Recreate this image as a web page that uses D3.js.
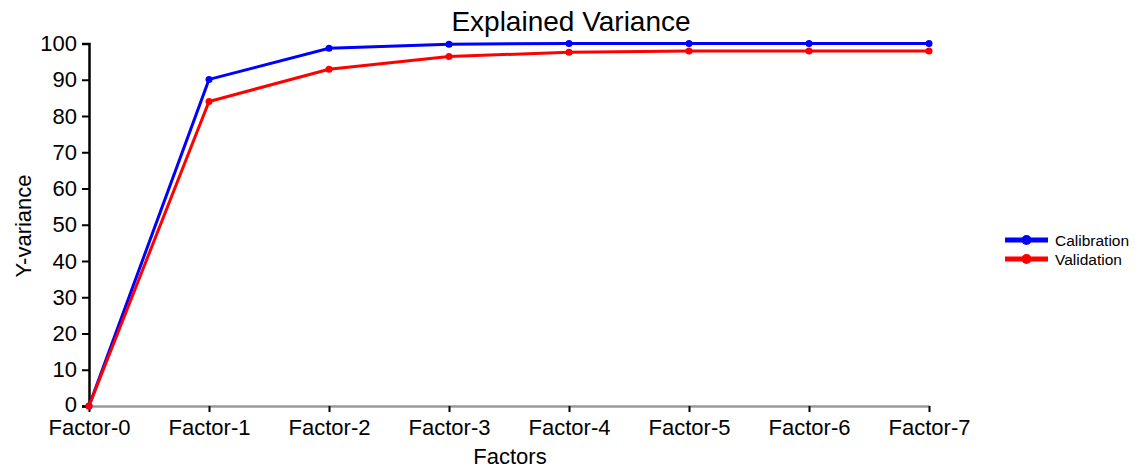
<!DOCTYPE html>
<html>
<head>
<meta charset="utf-8">
<script src="https://cdn.jsdelivr.net/npm/d3@7"></script>
<style>
  html, body { margin: 0; padding: 0; background: #fff; }
  svg { display: block; font-family: "Liberation Sans", Arial, sans-serif; }
</style>
</head>
<body>
<svg id="chart" width="1143" height="468"></svg>
<script>
// Explained Y-variance per number of factors
const factors = ["Factor-0", "Factor-1", "Factor-2", "Factor-3", "Factor-4", "Factor-5", "Factor-6", "Factor-7"];
const calibration = [0, 90.1, 98.7, 99.8, 100, 100, 100, 100];
const validation = [0, 84.0, 92.9, 96.4, 97.6, 97.9, 97.9, 97.9];
const yTicks = [0, 10, 20, 30, 40, 50, 60, 70, 80, 90, 100];
const seriesNames = ["Calibration", "Validation"];
const seriesColors = ["#0000ff", "#ff0000"];

const svg = d3.select("#chart");
const plot = { left: 89, right: 929, top: 43.5, bottom: 406 };

const x = d3.scalePoint().domain(factors).range([plot.left, plot.right]);
const y = d3.scaleLinear().domain([0, 100]).range([plot.bottom, plot.top]);

// Title
svg.append("text")
  .attr("x", 571).attr("y", 31)
  .attr("text-anchor", "middle")
  .attr("font-size", 28)
  .attr("fill", "#000")
  .text("Explained Variance");

// Y axis with minor ticks every 5
const yAxis = svg.append("g").attr("transform", `translate(${plot.left},0)`);
yAxis.call(d3.axisLeft(y).tickValues(d3.range(0, 101, 5)).tickSize(5).tickFormat(""));
yAxis.call(d3.axisLeft(y).tickValues(yTicks).tickSize(7).tickPadding(5).tickFormat(d3.format("d")));
yAxis.selectAll(".domain").attr("stroke", "#000").attr("stroke-width", 2.5);
yAxis.selectAll(".tick line").attr("stroke", "#000").attr("stroke-width", 2);
yAxis.selectAll(".tick text").attr("font-size", 22).attr("fill", "#000")
  .attr("font-family", "'Liberation Sans', Arial, sans-serif");
yAxis.selectAll(".tick text").filter(d => d === 0).attr("dy", "0.25em");

// X axis
const xAxis = svg.append("g").attr("transform", `translate(0,${plot.bottom})`);
xAxis.call(d3.axisBottom(x).tickSize(6).tickPadding(7).tickSizeOuter(0));
xAxis.selectAll(".domain").attr("stroke", "#999").attr("stroke-width", 2.5);
xAxis.selectAll(".tick line").attr("stroke", "#000").attr("stroke-width", 2);
xAxis.selectAll(".tick text").attr("font-size", 22).attr("fill", "#000")
  .attr("font-family", "'Liberation Sans', Arial, sans-serif");

// Axis titles
svg.append("text")
  .attr("x", 510).attr("y", 464)
  .attr("text-anchor", "middle")
  .attr("font-size", 22)
  .text("Factors");
svg.append("text")
  .attr("transform", "translate(31,226) rotate(-90)")
  .attr("text-anchor", "middle")
  .attr("font-size", 22)
  .text("Y-variance");

// Series lines and markers
const line = d3.line().x((d, i) => x(factors[i])).y(d => y(d));
[calibration, validation].forEach((vals, k) => {
  const g = svg.append("g");
  g.append("path")
    .datum(vals)
    .attr("d", line)
    .attr("fill", "none")
    .attr("stroke", seriesColors[k])
    .attr("stroke-width", 3);
  g.selectAll("circle")
    .data(vals)
    .join("circle")
    .attr("cx", (d, i) => x(factors[i]))
    .attr("cy", d => y(d))
    .attr("r", 3.5)
    .attr("fill", seriesColors[k]);
});

// Legend
const legend = svg.append("g").attr("transform", "translate(1005,240)");
seriesNames.forEach((name, k) => {
  const row = legend.append("g").attr("transform", `translate(0,${k * 19})`);
  row.append("line").attr("x1", 0).attr("x2", 43).attr("y1", 0).attr("y2", 0)
    .attr("stroke", seriesColors[k]).attr("stroke-width", 5);
  row.append("circle").attr("cx", 21.5).attr("cy", 0).attr("r", 5).attr("fill", seriesColors[k]);
  row.append("text").attr("x", 50).attr("y", 5.5).attr("font-size", 15.5).text(name);
});
</script>
</body>
</html>
